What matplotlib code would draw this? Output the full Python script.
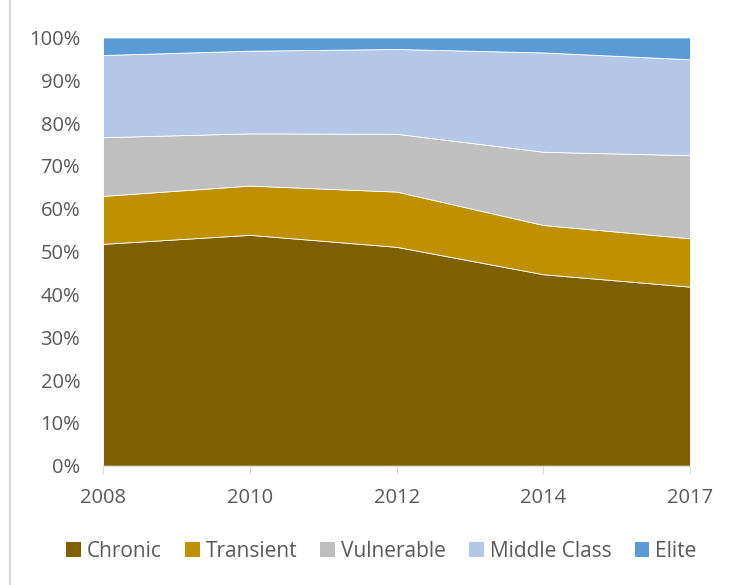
import matplotlib.pyplot as plt
from matplotlib.lines import Line2D
from matplotlib.patches import Patch
from matplotlib.ticker import PercentFormatter

years = ["2008", "2010", "2012", "2014", "2017"]
chronic = [51.8, 53.9, 51.1, 44.7, 41.8]
transient = [11.2, 11.5, 12.9, 11.5, 11.3]
vulnerable = [13.7, 12.2, 13.5, 17.1, 19.4]
middle_class = [19.2, 19.3, 19.8, 23.2, 22.4]
elite = [4.1, 3.1, 2.7, 3.5, 5.1]

labels = ["Chronic", "Transient", "Vulnerable", "Middle Class", "Elite"]
colors = ["#7F6000", "#BF9000", "#BFBFBF", "#B4C7E7", "#5B9BD5"]

plt.rcParams['font.family'] = ['Open Sans', 'DejaVu Sans']
text_color = "#595959"

fig = plt.figure(figsize=(7.31, 5.85), dpi=100)
ax = fig.add_axes([0.141, 0.204, 0.803, 0.732])

x = list(range(len(years)))
ax.stackplot(x, chronic, transient, vulnerable, middle_class, elite,
             colors=colors, edgecolor="white", linewidth=0.6)

ax.set_xlim(0, len(years) - 1)
ax.set_ylim(0, 100)
ax.set_yticks(range(0, 101, 10))
ax.yaxis.set_major_formatter(PercentFormatter(decimals=0))
ax.set_xticks(x)
ax.set_xticklabels(years)

for s in ["top", "right", "left"]:
    ax.spines[s].set_visible(False)
ax.spines["bottom"].set_color("#D9D9D9")
ax.tick_params(axis="y", length=0, pad=16.5, labelsize=14.5, labelcolor=text_color)
ax.tick_params(axis="x", length=6, color="#D9D9D9", pad=10, labelsize=14.5,
               labelcolor=text_color)

handles = [Patch(facecolor=c, edgecolor="none") for c in colors]
fig.legend(handles, labels, loc="center", bbox_to_anchor=(0.522, 0.058), ncol=5,
           frameon=False, fontsize=15, labelcolor=text_color,
           handlelength=0.7, handleheight=0.7, handletextpad=0.3, columnspacing=1.1)

# chart-area border on the left edge
fig.add_artist(Line2D([0.014, 0.014], [0, 1], color="#D9D9D9", linewidth=1.5))

fig.savefig("out.png", dpi=100)
